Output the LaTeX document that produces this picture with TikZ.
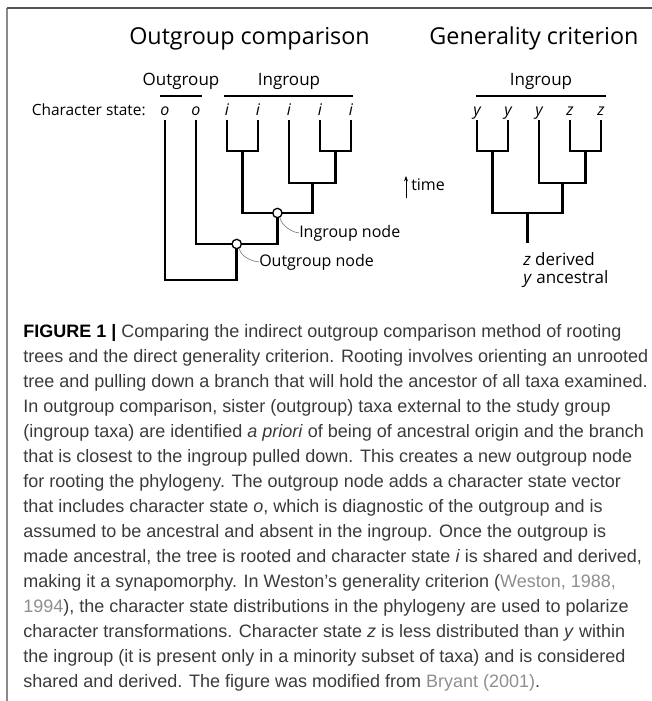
\documentclass[tikz,border=0pt]{standalone}
\usepackage{fontspec}
\setmainfont{Open Sans}
\newfontfamily\capfont{Liberation Sans}
\usetikzlibrary{arrows.meta}

\definecolor{capgray}{HTML}{3A3A3A}
\definecolor{refgray}{HTML}{8E8E8E}
\definecolor{topgray}{HTML}{555555}
\definecolor{sidegray}{HTML}{8A8A8A}

\tikzset{
  branch/.style={line width=2pt, line join=miter},
  grpline/.style={line width=0.8pt},
  heading/.style={font=\fontsize{17.5}{20}\selectfont, inner sep=0pt, anchor=base},
  grp/.style={font=\fontsize{12.75}{15}\selectfont, inner sep=0pt, anchor=base},
  statelab/.style={font=\itshape\fontsize{12}{14}\selectfont, inner sep=0pt, anchor=base},
  lbl/.style={font=\fontsize{12}{14}\selectfont, inner sep=0pt, anchor=base west},
  hub/.style={circle, draw, fill=white, line width=1pt, minimum size=7pt, inner sep=0pt},
  leader/.style={gray, line width=0.5pt},
  capt/.style={font=\capfont\fontsize{13.5}{18.75}\selectfont, text=capgray, inner sep=0pt, anchor=base west}
}

\begin{document}
\begin{tikzpicture}[x=0.75pt,y=-0.75pt]
\useasboundingbox (0,0) rectangle (652,701);
% frame
\draw[sidegray, line width=1.4pt] (7,701) -- (7,8);
\draw[topgray, line width=1.4pt] (7,8) -- (652,8);

% headings
\node[heading] (ttlout) at (249.5,44) {Outgroup comparison};
\node[heading] (ttlgen) at (534,44) {Generality criterion};

% group labels
\node[grp] (outlab) at (181,85) {Outgroup};
\node[grp] (inlab) at (289,85) {Ingroup};
\node[grp] (genlab) at (541,85) {Ingroup};
\draw[grpline] (160,96) -- (202,96);
\draw[grpline] (224,96) -- (353,96);
\draw[grpline] (476,96) -- (606,96);
\node[grp, anchor=base east, font=\fontsize{11.6}{14}\selectfont] (charlab) at (146,115) {Character state:};

% tips
\foreach \nm/\x/\s in {o1/165/o, o2/196/o, i1/227/i, i2/258/i, i3/289/i, i4/320/i, i5/351/i,
                       y1/477/y, y2/508/y, y3/539/y, z1/570/z, z2/601/z}{
  \node[statelab] (\nm) at (\x,115) {\s};
  \coordinate (\nm-top) at (\x,120);
}

% outgroup comparison tree
\coordinate (a) at (242.5,151);
\coordinate (b) at (335.5,151);
\coordinate (c) at (312.25,183);
\coordinate (d) at (277.4,213);
\coordinate (e) at (236.7,244);
\coordinate (r) at (236.7,280);
\draw[branch] (i1-top) |- (a) -| (i2-top);
\draw[branch] (i4-top) |- (b) -| (i5-top);
\draw[branch] (i3-top) |- (c) -| (b);
\draw[branch] (a) |- (d) -| (c);
\draw[branch] (o2-top) |- (e) -| (d);
\draw[branch] (o1-top) |- (r) -- (e);
\node[hub] (dn) at (d) {};
\node[hub] (en) at (e) {};

\node[lbl] (dlab) at (299,237) {Ingroup node};
\node[lbl] (elab) at (259,266) {Outgroup node};
\draw[leader] (dn.-60) .. controls +(1,8) and +(-6,0) .. (dlab.west);
\draw[leader] (en.-60) .. controls +(1,8) and +(-6,0) .. (elab.west);

% time arrow
\coordinate (tbot) at (406,198);
\coordinate (ttop) at (406,176);
\draw[-{Stealth[length=4pt,width=3pt]}, line width=0.6pt] (tbot) -- (ttop);
\node[lbl] (timelab) at (411,190) {time};

% generality criterion tree
\coordinate (g) at (492.5,151);
\coordinate (h) at (585.5,151);
\coordinate (k) at (562.25,183);
\coordinate (m) at (527.4,213);
\coordinate (n) at (527.4,243);
\draw[branch] (y1-top) |- (g) -| (y2-top);
\draw[branch] (z1-top) |- (h) -| (z2-top);
\draw[branch] (y3-top) |- (k) -| (h);
\draw[branch] (g) |- (m) -| (k);
\draw[branch] (m) -- (n);
\node[lbl, font=\fontsize{12.75}{15}\selectfont] (zlab) at (523,265) {\textit{z} derived};
\node[lbl, font=\fontsize{12.75}{15}\selectfont] (ylab) at (523,283) {\textit{y} ancestral};

% caption
\foreach \ln [count=\k] in {
  {{\color{black}\textbf{FIGURE 1 |}} Comparing the indirect outgroup comparison method of rooting},
  {trees and the direct generality criterion. Rooting involves orienting an unrooted},
  {tree and pulling down a branch that will hold the ancestor of all taxa examined.},
  {In outgroup comparison, sister (outgroup) taxa external to the study group},
  {(ingroup taxa) are identified \textit{a priori} of being of ancestral origin and the branch},
  {that is closest to the ingroup pulled down. This creates a new outgroup node},
  {for rooting the phylogeny. The outgroup node adds a character state vector},
  {that includes character state \textit{o}, which is diagnostic of the outgroup and is},
  {assumed to be ancestral and absent in the ingroup. Once the outgroup is},
  {made ancestral, the tree is rooted and character state \textit{i} is shared and derived,},
  {making it a synapomorphy. In Weston’s generality criterion ({\color{refgray}Weston, 1988,}},
  {{\color{refgray}1994}), the character state distributions in the phylogeny are used to polarize},
  {character transformations. Character state \textit{z} is less distributed than \textit{y} within},
  {the ingroup (it is present only in a minority subset of taxa) and is considered},
  {shared and derived. The figure was modified from {\color{refgray}Bryant (2001)}.}
}
  \node[capt] (cap\k) at (23,312+25*\k) {\ln};
\end{tikzpicture}
\end{document}
